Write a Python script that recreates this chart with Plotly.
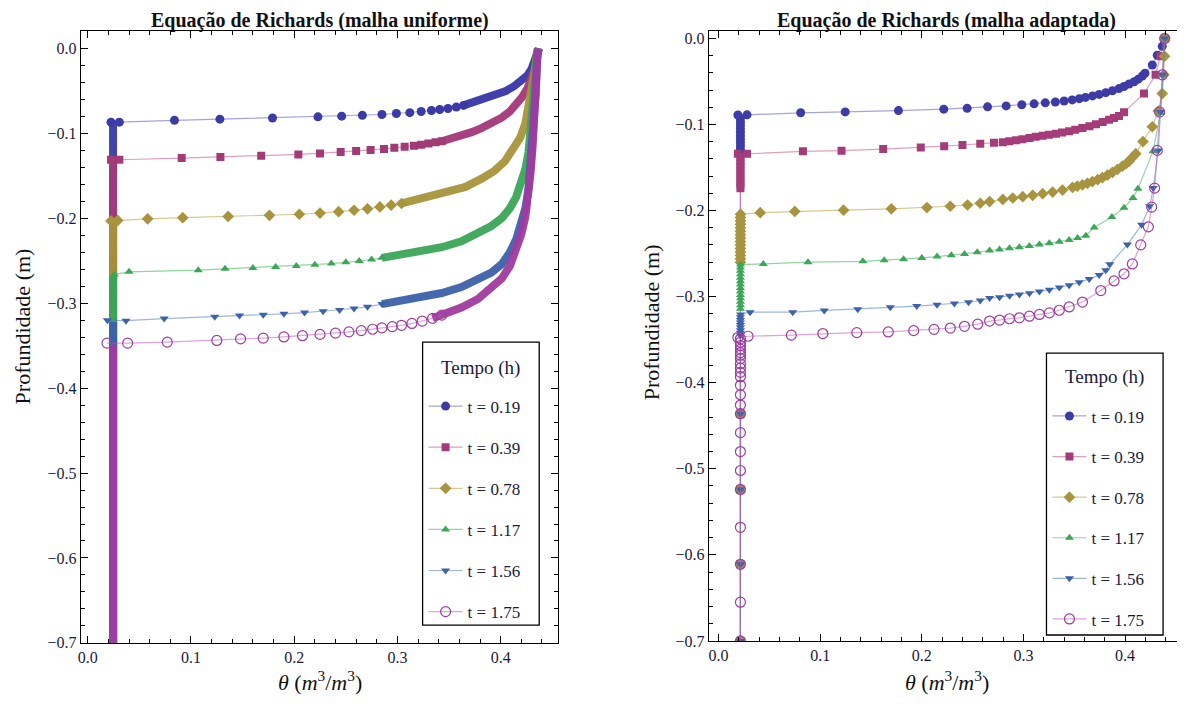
import plotly.graph_objects as go

OFF = 8                      # page body margin of the browser
W, H = 1185 - OFF, 713 - OFF

# ---------------- data ----------------
TIMES = ["t = 0.19", "t = 0.39", "t = 0.78", "t = 1.17", "t = 1.56", "t = 1.75"]
X_TICKS = [0.0, 0.1, 0.2, 0.3, 0.4]
X_TICK_TEXT = ["0.0", "0.1", "0.2", "0.3", "0.4"]
Y_TICKS = [0.0, -0.1, -0.2, -0.3, -0.4, -0.5, -0.6, -0.7]
Y_TICK_TEXT = ["0.0", "\u22120.1", "\u22120.2", "\u22120.3", "\u22120.4", "\u22120.5", "\u22120.6", "\u22120.7"]

# uniform mesh: initial moisture column and bottom of domain
THETA_R_UNI = 0.0245
BOTTOM = -0.7

# uniform mesh: individually visible markers along each wetting front
uni_front_theta = [
    [0.0225, 0.0306, 0.084, 0.128, 0.179, 0.223, 0.246, 0.266, 0.285, 0.299, 0.312, 0.323, 0.333, 0.341, 0.349, 0.357, 0.364],
    [0.0225, 0.0306, 0.091, 0.1285, 0.168, 0.204, 0.225, 0.245, 0.260, 0.274, 0.287, 0.297, 0.307, 0.316, 0.323, 0.330, 0.337, 0.343],
    [0.0225, 0.029, 0.058, 0.092, 0.136, 0.176, 0.205, 0.225, 0.243, 0.258, 0.271, 0.283, 0.294, 0.304],
    [0.0257, 0.040, 0.107, 0.133, 0.160, 0.182, 0.202, 0.220, 0.236, 0.250, 0.263, 0.275, 0.285],
    [0.019, 0.037, 0.074, 0.123, 0.147, 0.170, 0.190, 0.210, 0.228, 0.244, 0.258, 0.271, 0.285],
    [0.0186, 0.0386, 0.077, 0.125, 0.148, 0.170, 0.190, 0.208, 0.225, 0.240, 0.253, 0.265, 0.276, 0.285, 0.295, 0.304, 0.314, 0.324, 0.334, 0.343],
]
uni_front_depth = [
    [-0.0867, -0.0867, -0.0846, -0.0832, -0.0818, -0.0805, -0.0797, -0.0787, -0.0777, -0.0765, -0.0755, -0.0742, -0.0730, -0.0718, -0.0706, -0.0690, -0.0670],
    [-0.1310, -0.1310, -0.1290, -0.1278, -0.1262, -0.1247, -0.1235, -0.1220, -0.1207, -0.1195, -0.1182, -0.1170, -0.1157, -0.1145, -0.1132, -0.1118, -0.1105, -0.1092],
    [-0.2030, -0.2025, -0.2006, -0.1992, -0.1978, -0.1965, -0.1952, -0.1938, -0.1922, -0.1905, -0.1888, -0.1865, -0.1845, -0.1825],
    [-0.2660, -0.2630, -0.2610, -0.2595, -0.2585, -0.2572, -0.2560, -0.2547, -0.2533, -0.2518, -0.2502, -0.2485, -0.2465],
    [-0.3200, -0.3205, -0.3180, -0.3160, -0.3144, -0.3136, -0.3125, -0.3110, -0.3095, -0.3080, -0.3062, -0.3042, -0.3010],
    [-0.3470, -0.3470, -0.3458, -0.3438, -0.3420, -0.3411, -0.3397, -0.3382, -0.3367, -0.3352, -0.3337, -0.3322, -0.3306, -0.3290, -0.3275, -0.3260, -0.3238, -0.3210, -0.3178, -0.3140],
]
# uniform mesh: densely packed nodes near saturation (markers merge into a band)
uni_band_theta = [
    [0.364, 0.375, 0.386, 0.396, 0.405, 0.413, 0.420, 0.426, 0.430, 0.433, 0.435, 0.437],
    [0.343, 0.352, 0.362, 0.372, 0.382, 0.392, 0.401, 0.409, 0.416, 0.421, 0.426, 0.430, 0.433, 0.435, 0.437],
    [0.304, 0.317, 0.333, 0.349, 0.366, 0.382, 0.394, 0.404, 0.412, 0.419, 0.424, 0.427, 0.431, 0.433, 0.435, 0.437],
    [0.285, 0.304, 0.324, 0.343, 0.362, 0.378, 0.391, 0.401, 0.409, 0.415, 0.420, 0.424, 0.427, 0.429, 0.431, 0.432, 0.434, 0.435, 0.437],
    [0.285, 0.304, 0.324, 0.343, 0.362, 0.378, 0.391, 0.401, 0.409, 0.415, 0.420, 0.424, 0.427, 0.429, 0.431, 0.432, 0.434, 0.435, 0.436],
    [0.334, 0.343, 0.362, 0.378, 0.391, 0.401, 0.409, 0.415, 0.420, 0.424, 0.427, 0.429, 0.431, 0.432, 0.434, 0.435, 0.436],
]
uni_band_depth = [
    [-0.0670, -0.0630, -0.0590, -0.0545, -0.0500, -0.0445, -0.0385, -0.0315, -0.0240, -0.0160, -0.0080, 0.0],
    [-0.1092, -0.1065, -0.1030, -0.0985, -0.0935, -0.0880, -0.0815, -0.0740, -0.0655, -0.0570, -0.0470, -0.0360, -0.0240, -0.0120, 0.0],
    [-0.1825, -0.1785, -0.1750, -0.1700, -0.1630, -0.1530, -0.1440, -0.1330, -0.1200, -0.1050, -0.0880, -0.0680, -0.0490, -0.0260, -0.0080, 0.0],
    [-0.2465, -0.2430, -0.2380, -0.2340, -0.2270, -0.2180, -0.2090, -0.2000, -0.1880, -0.1750, -0.1590, -0.1420, -0.1220, -0.0990, -0.0760, -0.0530, -0.0260, -0.0060, 0.0],
    [-0.3010, -0.2970, -0.2930, -0.2880, -0.2810, -0.2730, -0.2640, -0.2540, -0.2400, -0.2250, -0.2080, -0.1880, -0.1650, -0.1380, -0.1110, -0.0840, -0.0530, -0.0220, 0.0],
    [-0.3178, -0.3140, -0.3050, -0.2950, -0.2830, -0.2710, -0.2560, -0.2380, -0.2190, -0.1980, -0.1750, -0.1460, -0.1150, -0.0840, -0.0530, -0.0220, 0.0],
]

# adapted mesh: nodes on the initial-moisture column (deep -> shallow)
THETA_R_ADA = 0.0215
ada_column_depth = [
    [-0.70, -0.611, -0.524, -0.436, -0.129, -0.125, -0.121, -0.117, -0.113, -0.109, -0.105, -0.101, -0.097, -0.093],
    [-0.70, -0.611, -0.524, -0.436, -0.174, -0.170, -0.166, -0.162, -0.158, -0.154, -0.150, -0.146, -0.142, -0.138],
    [-0.70, -0.611, -0.524, -0.436, -0.260, -0.256, -0.252, -0.248, -0.244, -0.240, -0.236, -0.232, -0.228, -0.224, -0.220, -0.216, -0.212, -0.208],
    [-0.70, -0.611, -0.524, -0.436, -0.314, -0.310, -0.306, -0.302, -0.298, -0.294, -0.290, -0.286, -0.282, -0.278, -0.274, -0.270, -0.266],
    [-0.70, -0.611, -0.524, -0.436, -0.345, -0.342, -0.339, -0.336, -0.333, -0.330, -0.327, -0.324],
    [-0.70, -0.655, -0.611, -0.568, -0.524, -0.502, -0.480, -0.458, -0.436, -0.426, -0.414, -0.403, -0.393, -0.388, -0.383, -0.378, -0.372, -0.368, -0.365, -0.361, -0.357, -0.353, -0.349],
]
# adapted mesh: nodes along the wetting front up to the surface
ada_profile_theta = [
    [0.019, 0.028, 0.0808, 0.1246, 0.177, 0.2216, 0.2446, 0.2647, 0.283, 0.2984, 0.3105, 0.3215, 0.3314, 0.340, 0.348, 0.355, 0.361, 0.368, 0.3745, 0.381, 0.3876, 0.394, 0.399, 0.404, 0.409, 0.413, 0.417, 0.4196, 0.4268, 0.4317, 0.4366, 0.439],
    [0.019, 0.028, 0.083, 0.121, 0.162, 0.199, 0.222, 0.240, 0.2575, 0.271, 0.2797, 0.286, 0.2928, 0.299, 0.3059, 0.312, 0.3189, 0.325, 0.332, 0.338, 0.345, 0.351, 0.358, 0.365, 0.3713, 0.378, 0.3843, 0.389, 0.394, 0.399, 0.4186, 0.430, 0.435, 0.439],
    [0.0216, 0.041, 0.075, 0.123, 0.170, 0.205, 0.228, 0.245, 0.2575, 0.2667, 0.2797, 0.2895, 0.2993, 0.3091, 0.3189, 0.3287, 0.3385, 0.3483, 0.353, 0.3581, 0.363, 0.3679, 0.373, 0.3778, 0.3827, 0.3876, 0.3925, 0.3974, 0.401, 0.404, 0.407, 0.4105, 0.4176, 0.4268, 0.4327, 0.4366, 0.4382, 0.4389, 0.439],
    [0.0216, 0.044, 0.088, 0.142, 0.163, 0.182, 0.200, 0.215, 0.229, 0.242, 0.2545, 0.2667, 0.2765, 0.2863, 0.296, 0.3059, 0.3157, 0.3255, 0.3353, 0.345, 0.3533, 0.3614, 0.3696, 0.387, 0.399, 0.4078, 0.4127, 0.4275, 0.435, 0.4373, 0.439],
    [0.0216, 0.031, 0.073, 0.104, 0.137, 0.169, 0.195, 0.215, 0.232, 0.246, 0.2575, 0.2667, 0.2765, 0.2863, 0.296, 0.3059, 0.3157, 0.3255, 0.3353, 0.345, 0.3549, 0.3647, 0.3745, 0.381, 0.385, 0.4023, 0.4163, 0.4242, 0.4278, 0.4327, 0.435, 0.4366, 0.439],
    [0.019, 0.029, 0.0716, 0.1026, 0.136, 0.167, 0.192, 0.212, 0.228, 0.242, 0.255, 0.2667, 0.2765, 0.2863, 0.296, 0.3059, 0.3157, 0.3255, 0.3353, 0.345, 0.3581, 0.3761, 0.3892, 0.399, 0.4072, 0.4154, 0.4229, 0.4262, 0.4291, 0.4317, 0.434, 0.4366, 0.439],
]
ada_profile_depth = [
    [-0.0890, -0.0888, -0.0864, -0.0854, -0.0838, -0.0822, -0.0812, -0.0795, -0.0784, -0.0770, -0.0760, -0.0748, -0.0738, -0.0727, -0.0714, -0.0700, -0.0685, -0.0668, -0.0650, -0.0630, -0.0608, -0.0583, -0.0558, -0.0530, -0.0503, -0.0473, -0.0437, -0.0405, -0.0309, -0.0195, -0.0092, 0.0],
    [-0.1340, -0.1340, -0.1312, -0.1304, -0.1285, -0.1268, -0.1252, -0.1238, -0.1225, -0.1213, -0.1205, -0.1195, -0.1183, -0.1170, -0.1157, -0.1143, -0.1130, -0.1118, -0.1106, -0.1092, -0.1079, -0.1060, -0.1041, -0.1020, -0.0996, -0.0972, -0.0946, -0.0924, -0.0900, -0.0858, -0.0641, -0.0423, -0.0206, 0.0],
    [-0.2044, -0.2025, -0.2010, -0.1995, -0.1980, -0.1965, -0.1950, -0.1935, -0.1915, -0.1895, -0.1870, -0.1854, -0.1839, -0.1823, -0.1804, -0.1785, -0.1762, -0.1731, -0.1716, -0.1701, -0.1683, -0.1663, -0.1641, -0.1617, -0.1588, -0.1556, -0.1522, -0.1484, -0.1456, -0.1426, -0.1385, -0.1339, -0.1198, -0.1026, -0.0843, -0.0641, -0.0423, -0.0206, 0.0],
    [-0.2628, -0.2620, -0.2600, -0.2590, -0.2578, -0.2565, -0.2550, -0.2535, -0.2520, -0.2505, -0.2485, -0.2464, -0.2452, -0.2437, -0.2426, -0.2412, -0.2395, -0.2380, -0.2361, -0.2342, -0.2319, -0.2292, -0.2197, -0.2075, -0.1968, -0.1854, -0.1747, -0.1312, -0.0862, -0.0423, 0.0],
    [-0.3207, -0.3180, -0.3180, -0.3160, -0.3146, -0.3124, -0.3110, -0.3095, -0.3080, -0.3065, -0.3045, -0.3017, -0.3006, -0.2990, -0.2975, -0.2960, -0.2941, -0.2921, -0.2895, -0.2868, -0.2834, -0.2795, -0.2750, -0.2693, -0.2625, -0.2395, -0.2166, -0.1949, -0.1739, -0.1301, -0.0855, -0.0423, 0.0],
    [-0.3475, -0.3460, -0.3447, -0.3429, -0.3418, -0.3410, -0.3395, -0.3380, -0.3365, -0.3345, -0.3320, -0.3284, -0.3272, -0.3257, -0.3246, -0.3227, -0.3207, -0.3189, -0.3158, -0.3120, -0.3063, -0.2929, -0.2818, -0.2735, -0.2620, -0.2399, -0.2189, -0.1960, -0.1739, -0.1301, -0.0855, -0.0423, 0.0],
]

# ---------------- style ----------------
MARKER_COLORS = ["#3d3ca6", "#a43c7a", "#a8943e", "#3da658", "#3d62aa", "#a03ca0"]
LINE_COLORS = ["rgba(90,90,200,0.55)", "rgba(200,80,140,0.55)", "rgba(185,165,70,0.6)",
               "rgba(70,185,100,0.6)", "rgba(80,120,200,0.55)", "rgba(190,90,190,0.55)"]
SYMBOLS = ["circle", "square", "diamond", "triangle-up", "triangle-down", "circle-open"]
SIZES = [9, 8, 9, 8, 8, 10]
SERIF = "Liberation Serif, Times New Roman, serif"
TXT = "#1a1a3a"

fig = go.Figure()

def marker(i):
    m = dict(symbol=SYMBOLS[i], size=SIZES[i], color=MARKER_COLORS[i], line=dict(width=0))
    if SYMBOLS[i].endswith("open"):
        m["line"] = dict(width=1.2, color=MARKER_COLORS[i])
    return m

# left: uniform mesh
for i in range(6):
    bx = [THETA_R_UNI, THETA_R_UNI, None] + uni_band_theta[i]
    by = [BOTTOM, uni_front_depth[i][0] - 0.002, None] + uni_band_depth[i]
    fig.add_trace(go.Scatter(x=bx, y=by, mode="lines", xaxis="x", yaxis="y",
                             line=dict(color=MARKER_COLORS[i], width=8),
                             opacity=0.95, showlegend=False, hoverinfo="skip"))
    fig.add_trace(go.Scatter(x=uni_front_theta[i], y=uni_front_depth[i], mode="lines+markers",
                             xaxis="x", yaxis="y", name=TIMES[i], legend="legend",
                             legendgroup="u%d" % i,
                             line=dict(color=LINE_COLORS[i], width=1.2), marker=marker(i)))

# right: adapted mesh
for i in range(6):
    x = [THETA_R_ADA] * len(ada_column_depth[i]) + ada_profile_theta[i]
    y = ada_column_depth[i] + ada_profile_depth[i]
    fig.add_trace(go.Scatter(x=x, y=y, mode="lines+markers", xaxis="x2", yaxis="y2",
                             name=TIMES[i], legend="legend2", legendgroup="a%d" % i,
                             line=dict(color=LINE_COLORS[i], width=1.2), marker=marker(i)))

def px(x):
    return min(max((x - OFF) / W, 0.0), 1.0)

def py(y):
    return min(max(1 - (y - OFF) / H, 0.0), 1.0)

def axis_common():
    return dict(showline=True, linecolor="black", linewidth=1, mirror="allticks",
                ticks="inside", ticklen=7, tickwidth=1, tickcolor="black",
                showgrid=False, zeroline=False,
                tickfont=dict(family=SERIF, size=16, color=TXT))

xa = axis_common()
xa.update(tickmode="array", tickvals=X_TICKS, ticktext=X_TICK_TEXT,
          minor=dict(tickmode="linear", tick0=0, dtick=0.02, ticks="inside", ticklen=4,
                     tickcolor="black", showgrid=False))
ya = axis_common()
ya.update(tickmode="array", tickvals=Y_TICKS, ticktext=Y_TICK_TEXT,
          minor=dict(tickmode="linear", tick0=0, dtick=0.02, ticks="inside", ticklen=4,
                     tickcolor="black", showgrid=False))

layout = dict(
    width=W, height=H, margin=dict(l=0, r=0, t=0, b=0),
    paper_bgcolor="white", plot_bgcolor="white", showlegend=True,
    xaxis=dict(xa, domain=[px(78), px(557)], range=[-0.0068, 0.4557], anchor="y"),
    yaxis=dict(ya, domain=[py(651), py(30)], range=[-0.7, 0.021], anchor="x"),
    xaxis2=dict(xa, domain=[px(708), 1.0], range=[-0.0098, 0.458], anchor="y2"),
    yaxis2=dict(ya, domain=[py(649), py(30)], range=[-0.7, 0.009], anchor="x2"),
)

leg_common = dict(bgcolor="rgba(0,0,0,0)", borderwidth=0, xanchor="left", yanchor="top",
                  font=dict(family=SERIF, size=17, color=TXT),
                  traceorder="grouped", itemwidth=34)
layout["legend"] = dict(leg_common, x=px(422), y=py(393), tracegroupgap=16)
layout["legend2"] = dict(leg_common, x=px(1048), y=py(403), tracegroupgap=15.5)

fig.update_layout(**layout)

# legend frames
for (x0, y0, x1, y1) in [(421, 346, 538, 633), (1047, 357, 1164, 643)]:
    fig.add_shape(type="rect", xref="paper", yref="paper", x0=px(x0), x1=px(x1),
                  y0=py(y1), y1=py(y0), line=dict(color="black", width=1.3),
                  fillcolor="white", layer="above")

# legend titles
for (xx, yy) in [(479, 372), (1105, 381)]:
    fig.add_annotation(text="Tempo (h)", x=px(xx), y=py(yy), xref="paper", yref="paper",
                       showarrow=False, xanchor="center", yanchor="middle",
                       font=dict(family=SERIF, size=19, color=TXT))

# plot titles (touching the top of the figure area)
for (xx, txt) in [(318, "<b>Equação de Richards (malha uniforme)</b>"),
                  (947, "<b>Equação de Richards (malha adaptada)</b>")]:
    fig.add_annotation(text=txt, x=px(xx), y=1.0, xref="paper", yref="paper",
                       showarrow=False, xanchor="center", yanchor="top", yshift=2,
                       font=dict(family=SERIF, size=20, color="#111"))

for xx in [318, 947]:
    fig.add_annotation(text="<i>θ</i> (<i>m</i><sup>3</sup>/<i>m</i><sup>3</sup>)",
                       x=px(xx), y=py(690), xref="paper", yref="paper",
                       showarrow=False, xanchor="center", yanchor="middle",
                       font=dict(family=SERIF, size=22, color="#111"))
for (xx, yy) in [(19, 330), (651, 326)]:
    fig.add_annotation(text="Profundidade (m)", x=px(xx), y=py(yy), xref="paper", yref="paper",
                       showarrow=False, textangle=-90, xanchor="center", yanchor="middle",
                       font=dict(family=SERIF, size=22, color="#111"))

fig.write_html("out.html")
